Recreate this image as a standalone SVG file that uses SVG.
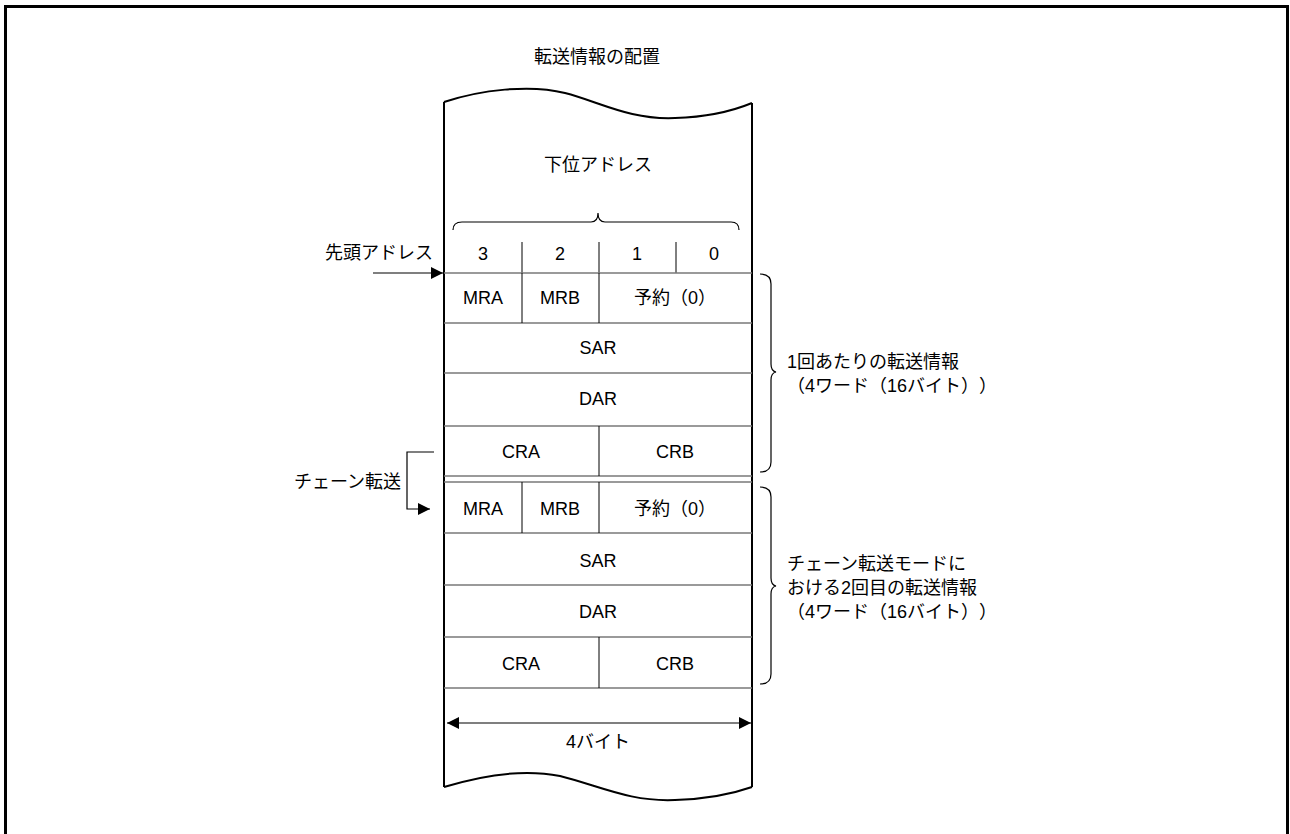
<svg xmlns="http://www.w3.org/2000/svg" width="1290" height="834" viewBox="0 0 1290 834">
<defs>
<style>
text{font-family:"Liberation Sans","Noto Sans CJK JP",sans-serif;font-size:18px;fill:#000;dominant-baseline:central;text-spacing-trim:space-all}
.c{text-anchor:middle}
.r{text-anchor:end}
.hl{stroke:#7a7a7a;stroke-width:1.6;fill:none}
.vl{stroke:#000;stroke-width:1;fill:none}
.bk{stroke:#000;stroke-width:2;fill:none}
.th{stroke:#000;stroke-width:1.2;fill:none}
</style>
<marker id="ah" viewBox="0 0 10 10" refX="10" refY="5" markerWidth="15" markerHeight="12" markerUnits="userSpaceOnUse" orient="auto-start-reverse">
<path d="M0 0L10 5L0 10Z" fill="#000"/>
</marker>
</defs>
<rect width="1290" height="834" fill="#fff"/>
<path d="M5.5 834V6.5H1287.5V834" stroke="#000" stroke-width="3" fill="none"/>
<g id="title"><text class="c" x="597" y="57">転送情報の配置</text></g>
<g id="column">
<path class="bk" d="M444 102C480 90 530 84 565 93C600 102 630 120 675 118C710 117 735 110 752 103"/>
<path class="bk" d="M444 787C480 776 520 768 560 776C600 786 630 802 675 800C710 799 735 793 752 787"/>
<path class="bk" d="M444 102V787M752 103V787"/>
</g>
<g id="lower-address">
<text class="c" x="598" y="165">下位アドレス</text>
<path class="th" d="M453 230Q453 222 462 222H591Q598 222 598 213Q598 222 605 222H731Q739 222 739 230"/>
</g>
<g id="byte-header">
<path class="vl" d="M522 242V273M599 242V273M676 242V273"/>
<text class="c" x="483" y="254">3</text>
<text class="c" x="560" y="254">2</text>
<text class="c" x="637" y="254">1</text>
<text class="c" x="714" y="254">0</text>
</g>
<g id="block1">
<path class="hl" d="M444 273H752M444 323H752M444 373H752M444 426H752M444 476H752"/>
<path class="vl" d="M522 273V323M599 273V323M599 426V476"/>
<text class="c" x="483" y="298">MRA</text>
<text class="c" x="560" y="298">MRB</text>
<text class="c" x="675" y="298">予約（0）</text>
<text class="c" x="598" y="348">SAR</text>
<text class="c" x="598" y="399">DAR</text>
<text class="c" x="521" y="452">CRA</text>
<text class="c" x="675" y="452">CRB</text>
</g>
<g id="block2">
<path class="hl" d="M444 482H752M444 533H752M444 585H752M444 637H752M444 688H752"/>
<path class="vl" d="M522 482V533M599 482V533M599 637V688"/>
<text class="c" x="483" y="509">MRA</text>
<text class="c" x="560" y="509">MRB</text>
<text class="c" x="675" y="509">予約（0）</text>
<text class="c" x="598" y="561">SAR</text>
<text class="c" x="598" y="612">DAR</text>
<text class="c" x="521" y="664">CRA</text>
<text class="c" x="675" y="664">CRB</text>
</g>
<g id="start-address">
<text class="r" x="433" y="253">先頭アドレス</text>
</g>
<g id="chain">
<text class="r" x="401" y="482">チェーン転送</text>
</g>
<g id="brace1">
<path class="th" d="M760 274Q771 274 771 284V364Q771 371 776 372Q771 373 771 380V462Q771 472 760 472"/>
<text x="787" y="362">1回あたりの転送情報</text>
<text x="787" y="386">（4ワード（16バイト））</text>
</g>
<g id="brace2">
<path class="th" d="M760 487Q771 487 771 497V578Q771 585 776 586Q771 587 771 594V674Q771 684 760 684"/>
<text x="787" y="564">チェーン転送モードに</text>
<text x="787" y="588">おける2回目の転送情報</text>
<text x="787" y="612">（4ワード（16バイト））</text>
</g>
<g id="width">
<text class="c" x="598" y="742">4バイト</text>
</g>
<g id="connectors">
<path class="th" d="M373 273H443" marker-end="url(#ah)"/>
<path class="th" d="M434 452H407V509H430" marker-end="url(#ah)"/>
<path class="th" d="M447 723H751" marker-start="url(#ah)" marker-end="url(#ah)"/>
</g>
</svg>
